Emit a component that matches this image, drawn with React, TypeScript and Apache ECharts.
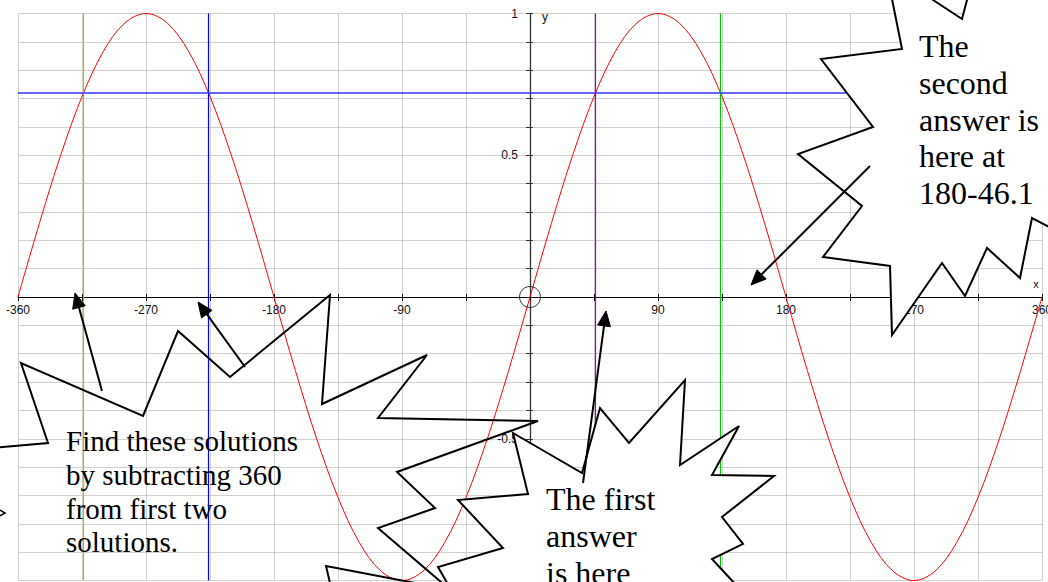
import React, { useEffect, useRef } from "react";
import * as echarts from "echarts";

// ---- data ----
const CURVE_X = [
  -360, -345, -330, -315, -300, -285, -270, -255, -240, -225, -210, -195, -180,
  -165, -150, -135, -120, -105, -90, -75, -60, -45, -30, -15, 0,
  15, 30, 45, 60, 75, 90, 105, 120, 135, 150, 165, 180,
  195, 210, 225, 240, 255, 270, 285, 300, 315, 330, 345, 360,
];
const CURVE_Y = [
  0, 0.259, 0.5, 0.707, 0.866, 0.966, 1, 0.966, 0.866, 0.707, 0.5, 0.259, 0,
  -0.259, -0.5, -0.707, -0.866, -0.966, -1, -0.966, -0.866, -0.707, -0.5, -0.259, 0,
  0.259, 0.5, 0.707, 0.866, 0.966, 1, 0.966, 0.866, 0.707, 0.5, 0.259, 0,
  -0.259, -0.5, -0.707, -0.866, -0.966, -1, -0.966, -0.866, -0.707, -0.5, -0.259, 0,
];
const MARKER_X = [-313.9, -226.1, 46.1, 133.9];
const MARKER_COLORS = ["#bdbd00", "#0000ff", "#a300c8", "#00c800"];
const MARKER_Y = 0.72;
const ORIGIN = [[0, 0]];
const X_LABELS = [-360, -270, -180, -90, 90, 180, 270, 360];
const Y_LABELS = [1, 0.5, -0.5];

const TEXT_SECOND = "The\nsecond\nanswer is\nhere at\n180-46.1";
const TEXT_FIRST = "The first\nanswer\nis here";
const TEXT_FIND = "Find these solutions\nby subtracting 360\nfrom first two\nsolutions.";

const SERIF = '"Liberation Serif", "Times New Roman", serif';
const SANS = '"Liberation Sans", Arial, sans-serif';

// ---- annotation shapes (pixel layout) ----
const BURST_SECOND = [
  [886, -31], [902, 49], [821, 59], [873, 127], [798, 154], [862, 206], [823, 257],
  [890, 266], [892, 335], [942, 263], [965, 296], [987, 248], [1020, 278], [1032, 218],
  [1070, 238], [1070, -40], [976, -34], [967, 0], [962, 19], [933, 0],
];
const BURST_FIRST = [
  [513, 433], [582, 473], [600, 408], [629, 443], [685, 380], [680, 465], [739, 426],
  [712, 475], [774, 476], [722, 517], [743, 544], [712, 559], [750, 600], [457, 600],
  [438, 567], [503, 548], [458, 500], [528, 494],
];
const BURST_FIND = [
  [-10, 448], [48, 443], [21, 363], [143, 416], [178, 331], [230, 377], [330, 295],
  [322, 404], [427, 355], [378, 418], [538, 421], [397, 472], [435, 508], [378, 528],
  [462, 600],
];
const BURST_FIND_BOTTOM = [[504, 600], [326, 566], [334, 600]];

function arrowEls(tail: number[], tip: number[], len = 15, half = 6.5) {
  const dx = tip[0] - tail[0];
  const dy = tip[1] - tail[1];
  const d = Math.hypot(dx, dy);
  const ux = dx / d;
  const uy = dy / d;
  const bx = tip[0] - ux * len;
  const by = tip[1] - uy * len;
  return [
    {
      type: "line",
      z: 102,
      shape: { x1: tail[0], y1: tail[1], x2: bx, y2: by },
      style: { stroke: "#000", lineWidth: 2 },
    },
    {
      type: "polygon",
      z: 102,
      shape: {
        points: [tip, [bx - uy * half, by + ux * half], [bx + uy * half, by - ux * half]],
      },
      style: { fill: "#000", stroke: "#000", lineWidth: 1 },
    },
  ];
}

export default function App() {
  const ref = useRef<HTMLDivElement>(null);

  useEffect(() => {
    document.body.style.margin = "0";
    if (!ref.current) return;
    const chart = echarts.init(ref.current, null, { renderer: "svg" });

    const gridW = 1024;
    const gridH = 567;

    const axisCommonX = {
      type: "value",
      min: -360,
      max: 360,
      interval: 45,
      position: "bottom",
      offset: -gridH / 2,
    };
    const axisCommonY = {
      type: "value",
      min: -1,
      max: 1,
      interval: 0.1,
      position: "left",
      offset: -gridW / 2,
    };

    const option: any = {
      animation: false,
      backgroundColor: "#ffffff",
      grid: {
        left: 18,
        top: 13.5,
        width: gridW,
        height: gridH,
        containLabel: false,
        outerBoundsMode: "none",
      },
      xAxis: [
        {
          ...axisCommonX,
          axisLine: { onZero: false, lineStyle: { color: "#000", width: 1 } },
          axisTick: { show: true, length: 4, lineStyle: { color: "#000", width: 1 } },
          axisLabel: {
            margin: 7,
            fontSize: 12,
            fontFamily: SANS,
            color: "#111",
            formatter: (v: number) => (X_LABELS.includes(v) ? String(v) : ""),
          },
          splitLine: { show: true, lineStyle: { color: "#d0d0d0", width: 1 } },
          name: "x",
          nameLocation: "end",
          nameGap: -6,
          nameTextStyle: {
            fontSize: 11,
            fontFamily: SANS,
            color: "#111",
            align: "center",
            verticalAlign: "bottom",
            padding: [0, 0, 8, 0],
          },
        },
        {
          ...axisCommonX,
          axisLine: { show: false, onZero: false },
          axisTick: { show: true, inside: true, length: 3, lineStyle: { color: "#000", width: 1 } },
          axisLabel: { show: false },
          splitLine: { show: false },
        },
      ],
      yAxis: [
        {
          ...axisCommonY,
          axisLine: { onZero: false, lineStyle: { color: "#333", width: 1.3 } },
          axisTick: { show: true, length: 4, lineStyle: { color: "#333", width: 1 } },
          axisLabel: {
            margin: 12,
            fontSize: 12,
            fontFamily: SANS,
            color: "#111",
            formatter: (v: number) =>
              Y_LABELS.some((y) => Math.abs(y - v) < 1e-6) ? String(Math.round(v * 10) / 10) : "",
          },
          splitLine: { show: true, lineStyle: { color: "#d0d0d0", width: 1 } },
          name: "y",
          nameLocation: "end",
          nameGap: -3,
          nameTextStyle: {
            fontSize: 12,
            fontFamily: SANS,
            color: "#111",
            align: "left",
            verticalAlign: "middle",
            padding: [0, 0, 0, 12],
          },
        },
        {
          ...axisCommonY,
          axisLine: { show: false, onZero: false },
          axisTick: { show: true, inside: true, length: 3, lineStyle: { color: "#333", width: 1 } },
          axisLabel: { show: false },
          splitLine: { show: false },
        },
      ],
      series: [
        {
          type: "line",
          xAxisIndex: 0,
          yAxisIndex: 0,
          data: CURVE_X.map((x, i) => [x, CURVE_Y[i]]),
          smooth: 0.35,
          symbol: "none",
          lineStyle: { color: "#ff0000", width: 1 },
          z: 3,
          markLine: {
            silent: true,
            symbol: ["none", "none"],
            label: { show: false },
            data: [
              ...MARKER_X.map((x, i) => ({
                xAxis: x,
                lineStyle: { color: MARKER_COLORS[i], width: 1.2, type: "solid" },
              })),
              { yAxis: MARKER_Y, lineStyle: { color: "#3333ff", width: 1.5, type: "solid" } },
            ],
          },
        },
        {
          type: "scatter",
          xAxisIndex: 0,
          yAxisIndex: 0,
          data: ORIGIN,
          symbol: "circle",
          symbolSize: 21,
          itemStyle: { color: "rgba(0,0,0,0)", borderColor: "#000", borderWidth: 1 },
          z: 4,
        },
      ],
      graphic: {
        elements: [
          {
            type: "polyline",
            z: 100,
            shape: { points: BURST_FIND },
            style: { stroke: "#000", lineWidth: 2, fill: null, lineJoin: "miter" },
          },
          {
            type: "polyline",
            z: 100,
            shape: { points: BURST_FIND_BOTTOM },
            style: { stroke: "#000", lineWidth: 2, fill: null, lineJoin: "miter" },
          },
          {
            type: "polyline",
            z: 100,
            shape: { points: [[-2, 509], [5, 513], [-2, 517]] },
            style: { stroke: "#000", lineWidth: 1.5, fill: null },
          },
          {
            type: "polygon",
            z: 100,
            shape: { points: BURST_SECOND },
            style: { fill: "#fff", stroke: "#000", lineWidth: 2, lineJoin: "miter" },
          },
          {
            type: "polygon",
            z: 100,
            shape: { points: BURST_FIRST },
            style: { fill: "#fff", stroke: "#000", lineWidth: 2, lineJoin: "miter" },
          },
          {
            type: "text",
            z: 101,
            x: 919,
            y: 27.8,
            style: {
              text: TEXT_SECOND,
              font: `32px ${SERIF}`,
              lineHeight: 36.75,
              fill: "#000",
              align: "left",
              verticalAlign: "top",
            },
          },
          {
            type: "text",
            z: 101,
            x: 546,
            y: 480.7,
            style: {
              text: TEXT_FIRST,
              font: `32px ${SERIF}`,
              lineHeight: 37,
              fill: "#000",
              align: "left",
              verticalAlign: "top",
            },
          },
          {
            type: "text",
            z: 101,
            x: 66,
            y: 424.4,
            style: {
              text: TEXT_FIND,
              font: `29px ${SERIF}`,
              lineHeight: 33.7,
              fill: "#000",
              align: "left",
              verticalAlign: "top",
            },
          },
          ...arrowEls([102, 391], [75, 293]),
          ...arrowEls([245, 367], [198, 302]),
          ...arrowEls([583, 483], [606, 311]),
          ...arrowEls([870, 166], [751, 285]),
        ],
      },
    };

    chart.setOption(option);
    return () => chart.dispose();
  }, []);

  return (
    <div
      ref={ref}
      style={{ position: "absolute", left: 0, top: 0, width: 1048, height: 582, background: "#fff" }}
    />
  );
}
